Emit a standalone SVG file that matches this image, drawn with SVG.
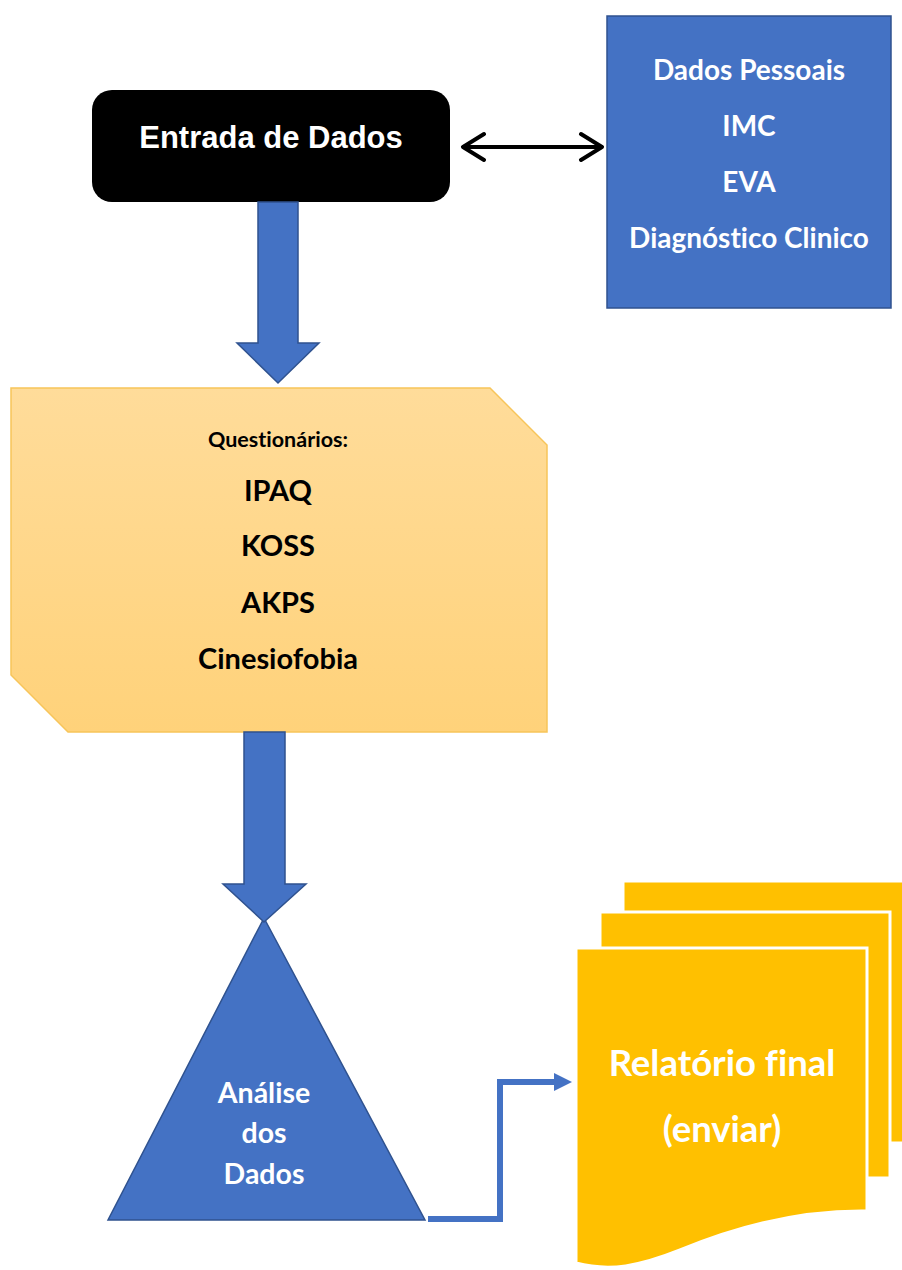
<svg xmlns="http://www.w3.org/2000/svg" width="902" height="1270" viewBox="0 0 902 1270">
<defs>
<style>
.blue{fill:#4472C4;stroke:#2F528F;stroke-width:1.5}
.wt{font-family:Lato,"Open Sans","Liberation Sans",sans-serif;font-weight:bold;fill:#fff;text-anchor:middle;font-variant-ligatures:none;font-feature-settings:"liga" 0,"dlig" 0}
.bk{font-family:Lato,"Open Sans","Liberation Sans",sans-serif;font-weight:bold;fill:#000;text-anchor:middle;font-variant-ligatures:none;font-feature-settings:"liga" 0,"dlig" 0}
.page{fill:#FFC000;stroke:#fff;stroke-width:3}
</style>
<linearGradient id="plateG" x1="0" y1="0" x2="0" y2="1">
<stop offset="0" stop-color="#FFDC9A"/>
<stop offset="1" stop-color="#FFD27A"/>
</linearGradient>
</defs>
<rect width="902" height="1270" fill="#fff"/>

<g id="entrada">
<rect x="92" y="90" width="358" height="112" rx="20" ry="20" fill="#000"/>
<text class="wt" x="271" y="148" style="font-family:'Liberation Sans',Arial,sans-serif;font-size:31px">Entrada de Dados</text>
</g>

<g id="dados-pessoais">
<rect x="607" y="16" width="284" height="292" class="blue"/>
<text class="wt" x="749" y="80" font-size="28">Dados Pessoais</text>
<text class="wt" x="749" y="136" font-size="28">IMC</text>
<text class="wt" x="749" y="192" font-size="28">EVA</text>
<text class="wt" x="749" y="248" font-size="28">Diagnóstico Clinico</text>
</g>

<g id="questionarios">
<path d="M11,388 H490 L547,445 V732 H68 L11,675 Z" fill="url(#plateG)" stroke="#F7C55A" stroke-width="1.5"/>
<text class="bk" x="278" y="447" font-size="21.5">Questionários:</text>
<text class="bk" x="278" y="501" font-size="29">IPAQ</text>
<text class="bk" x="278" y="556" font-size="29">KOSS</text>
<text class="bk" x="278" y="613" font-size="29">AKPS</text>
<text class="bk" x="278" y="669" font-size="29">Cinesiofobia</text>
</g>

<g id="analise">
<path d="M264,918 L425,1220 H108 Z" class="blue"/>
<text class="wt" x="264" y="1103" font-size="28.5">Análise</text>
<text class="wt" x="264" y="1143" font-size="28.5">dos</text>
<text class="wt" x="264" y="1184" font-size="28.5">Dados</text>
</g>

<g id="relatorio">
<path d="M623,881 H905 V1143 H623 Z" class="page"/>
<path d="M600,912 H890 V1178 H600 Z" class="page"/>
<path d="M576,948 H867 V1211 C800,1210 740,1225 680,1250 C640,1266 610,1272 576,1263 Z" class="page"/>
<text class="wt" x="722" y="1076" font-size="36.5">Relatório final</text>
<text class="wt" x="722" y="1142" font-size="36.5">(enviar)</text>
</g>

<g id="connectors">
<path d="M258,202 V343 H237 L278,383 L319,343 H298 V202 Z" class="blue"/>
<path d="M244,732 V884 H223 L264,922 L306,884 H285 V732 Z" class="blue"/>
<path d="M463,147 H602 M484,134 L463,147 L484,160 M581,134 L602,147 L581,160" fill="none" stroke="#000" stroke-width="4" stroke-linecap="round" stroke-linejoin="round"/>
<path d="M428,1219 H500 V1082 H556" fill="none" stroke="#4472C4" stroke-width="6"/>
<path d="M554,1073 L572,1082 L554,1091 Z" fill="#4472C4"/>
</g>
</svg>
